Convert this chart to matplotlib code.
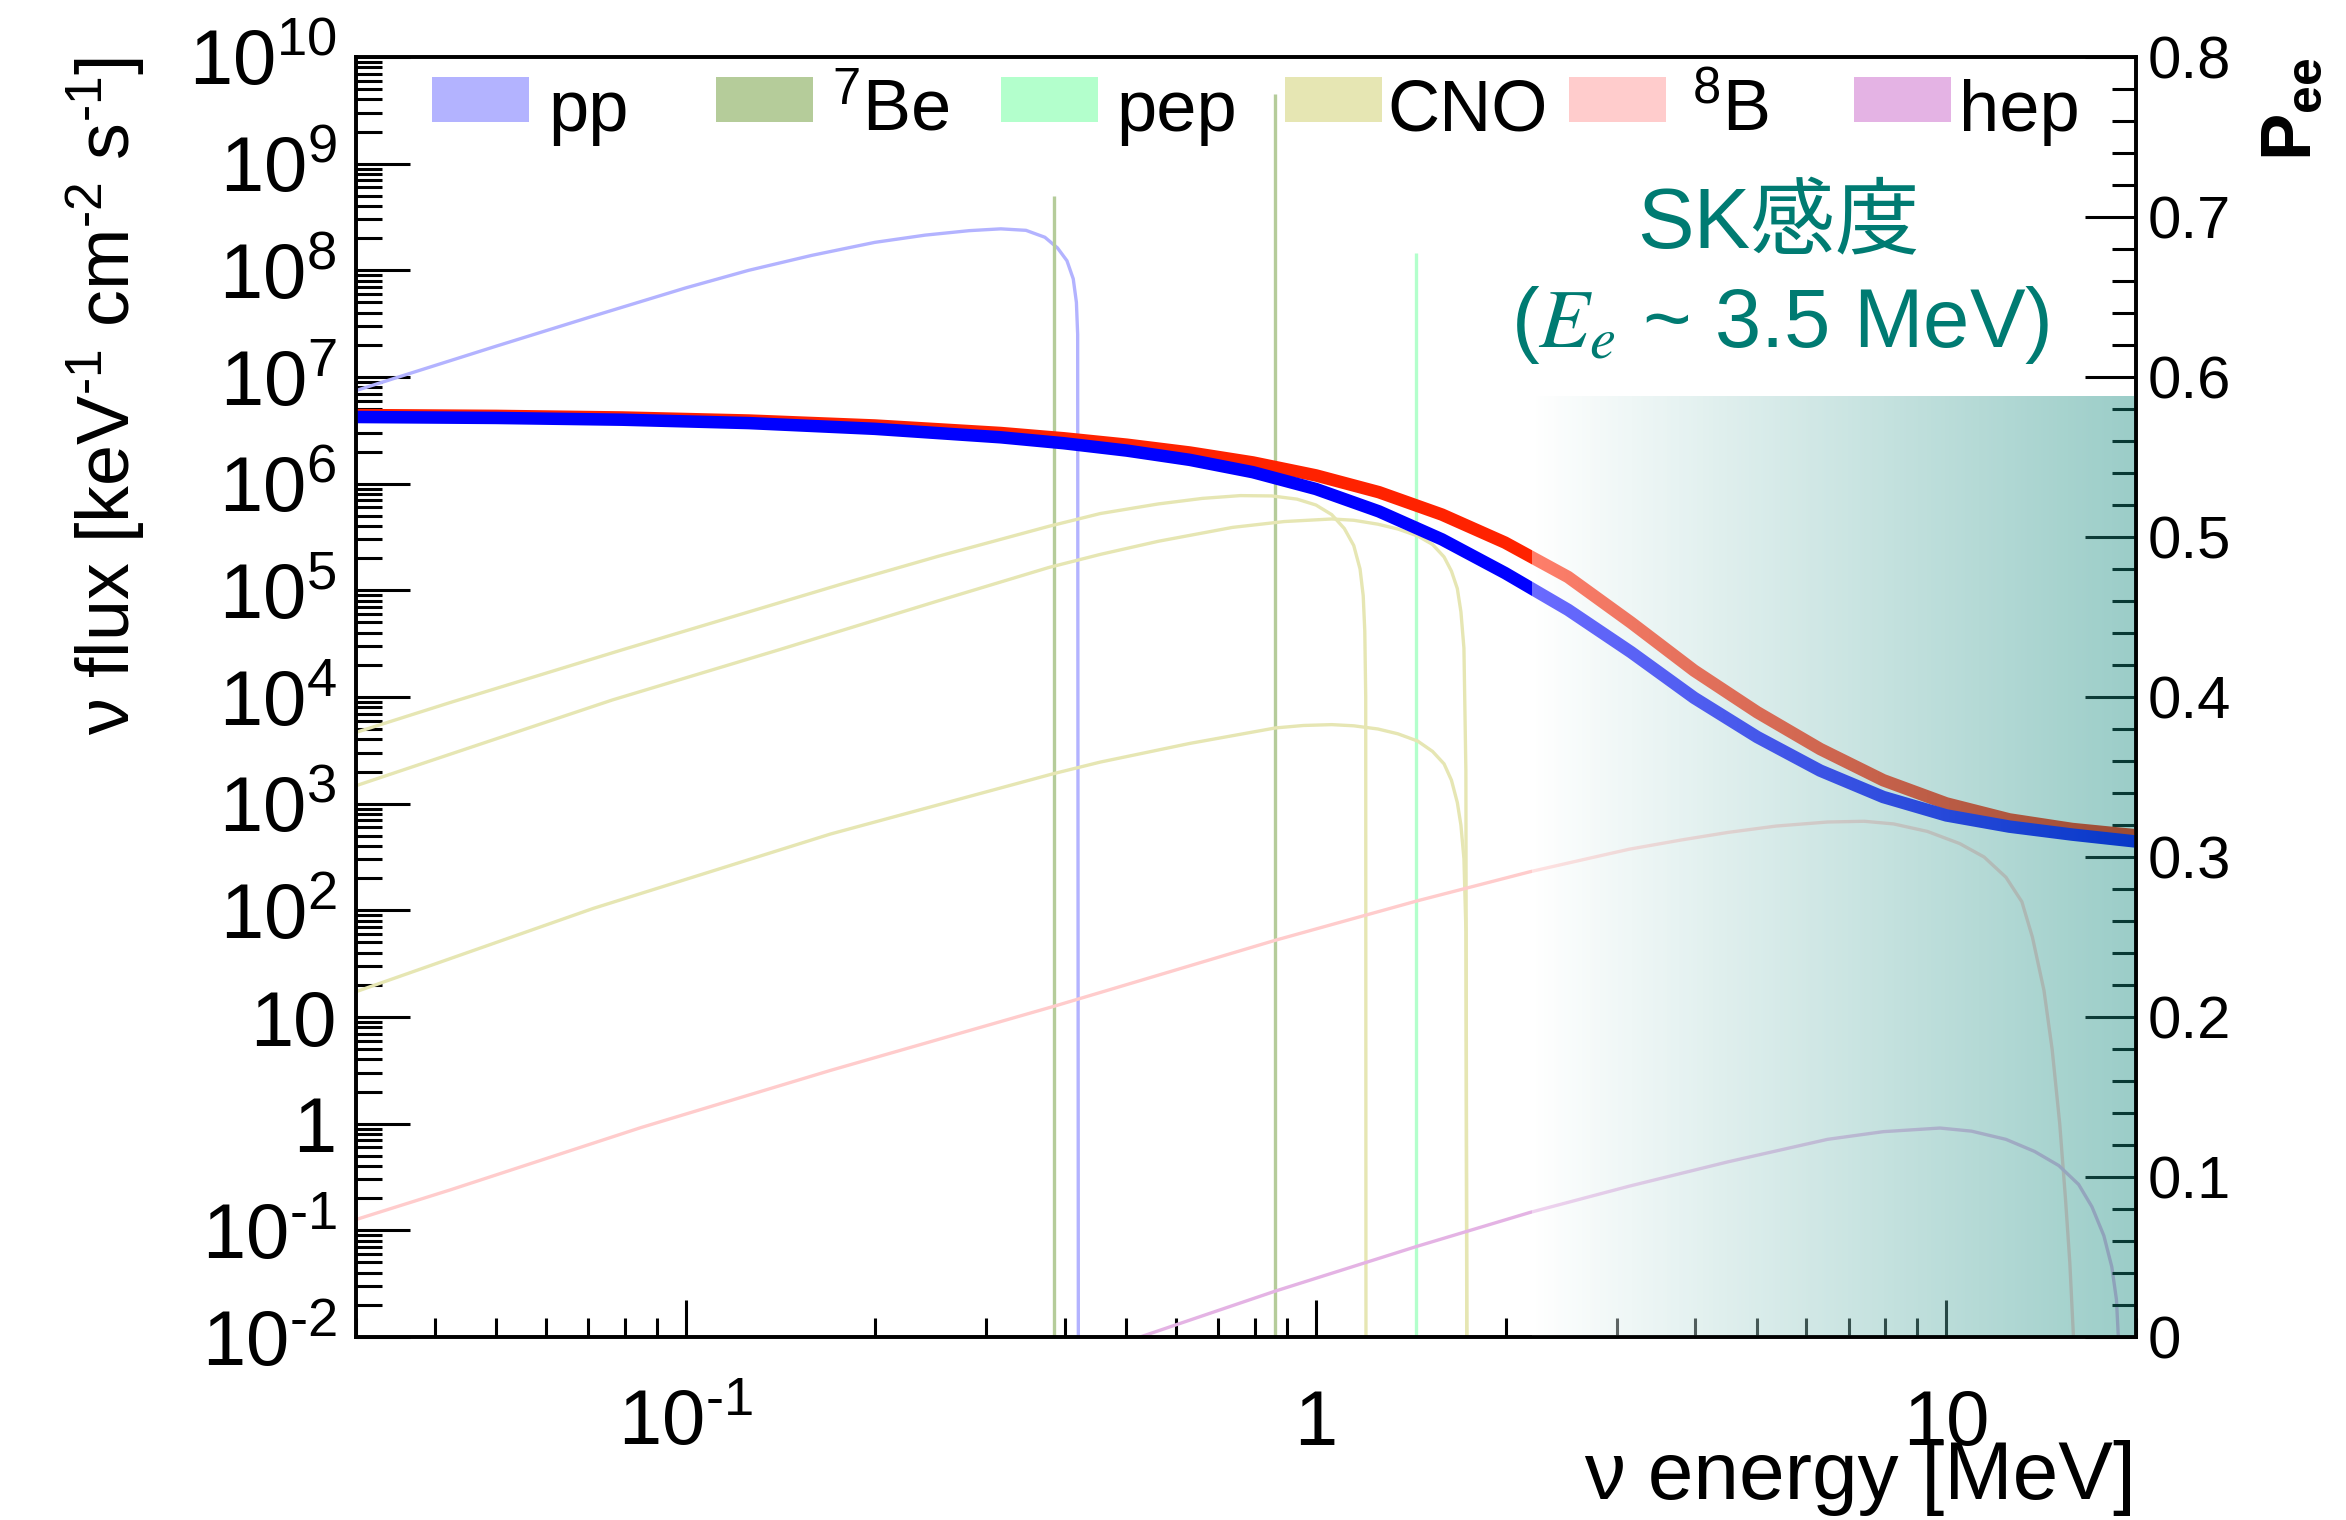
import numpy as np
import matplotlib
matplotlib.use("Agg")
import matplotlib.pyplot as plt
from matplotlib.patches import Rectangle
from matplotlib.colors import LinearSegmentedColormap
from matplotlib.ticker import LogLocator, NullFormatter, MultipleLocator

plt.rcParams['font.family'] = ['Liberation Sans', 'DejaVu Sans']
plt.rcParams['mathtext.fontset'] = 'custom'
plt.rcParams['mathtext.rm'] = 'Liberation Sans'
plt.rcParams['mathtext.it'] = 'Liberation Sans:italic'
plt.rcParams['mathtext.bf'] = 'Liberation Sans:bold'
plt.rcParams['mathtext.sf'] = 'Liberation Sans'

# ---------------- data: log10(E / MeV) and log10(flux / keV^-1 cm^-2 s^-1) ----------------
pp_logE = [-1.519, -1.45, -1.30, -1.15, -1.00, -0.90, -0.80, -0.70, -0.62, -0.55,
           -0.50, -0.46, -0.43, -0.41, -0.395, -0.385, -0.38, -0.378, -0.3767]
pp_logF = [6.88, 7.01, 7.29, 7.565, 7.835, 8.0, 8.14, 8.262, 8.33, 8.372,
           8.389, 8.375, 8.31, 8.21, 8.09, 7.92, 7.70, 7.40, -4]

be7_E = [0.384, 0.862]          # MeV (lines)
be7_flux = [5.0e8, 4.47e9]
pep_E = [1.442]
pep_flux = [1.44e8]

n13_logE = [-1.523, -1.3724, -1.1013, -0.75, -0.6, -0.4233, -0.342, -0.25, -0.18, -0.12,
            -0.07, -0.03, 0.0, 0.025, 0.045, 0.06, 0.07, 0.075, 0.0775, 0.079, 0.0795]
n13_logF = [3.668, 3.95, 4.441, 5.063, 5.318, 5.601, 5.72, 5.81, 5.862, 5.888,
            5.885, 5.855, 5.80, 5.71, 5.58, 5.42, 5.20, 4.95, 4.62, 4.0, -4]

o15_logE = [-1.523, -1.1163, -0.8527, -0.6, -0.4233, -0.342, -0.25, -0.1324, -0.05, 0.0251,
            0.06, 0.0984, 0.13, 0.1614, 0.185, 0.2033, 0.215, 0.2243, 0.23, 0.2348,
            0.2379, 0.24]
o15_logF = [3.168, 3.972, 4.441, 4.90, 5.215, 5.337, 5.46, 5.59, 5.645, 5.669,
            5.657, 5.62, 5.575, 5.51, 5.43, 5.313, 5.18, 5.017, 4.80, 4.459,
            3.307, -4]

f17_logE = [-1.523, -1.1465, -0.7698, -0.4159, -0.342, -0.2, -0.0641, -0.02, 0.0251, 0.06,
            0.0984, 0.13, 0.1614, 0.185, 0.2033, 0.215, 0.2243, 0.23, 0.2348, 0.238, 0.24]
f17_logF = [1.237, 2.018, 2.716, 3.282, 3.39, 3.565, 3.71, 3.733, 3.741, 3.73,
            3.70, 3.655, 3.587, 3.49, 3.373, 3.22, 3.011, 2.80, 2.485, 1.8, -4]

b8_logE = [-1.523, -1.3724, -1.071, -0.7698, -0.4159, -0.342, -0.0641, 0.1614, 0.3397, 0.42,
           0.497, 0.58, 0.6543, 0.73, 0.8116, 0.87, 0.9165, 0.97, 1.0213, 1.06,
           1.0947, 1.12, 1.1367, 1.155, 1.168, 1.18, 1.1892, 1.196, 1.2018, 1.21]
b8_logF = [-0.899, -0.619, -0.037, 0.50, 1.10, 1.23, 1.72, 2.09, 2.362, 2.47,
           2.573, 2.66, 2.731, 2.79, 2.828, 2.835, 2.81, 2.74, 2.626, 2.50,
           2.31, 2.08, 1.748, 1.25, 0.696, 0.0, -0.709, -1.3, -2.0, -4]

hep_logE = [-0.523, -0.279, -0.0641, 0.1614, 0.3397, 0.497, 0.6543, 0.8116, 0.90, 0.99,
            1.04, 1.0947, 1.14, 1.1786, 1.21, 1.2311, 1.25, 1.2626, 1.27, 1.273, 1.2735]
hep_logF = [-2.49, -2.0, -1.569, -1.148, -0.832, -0.586, -0.357, -0.147, -0.075, -0.041,
            -0.07, -0.147, -0.26, -0.393, -0.57, -0.779, -1.05, -1.341, -1.65, -2.0, -4]

# survival probability curves (right axis)
pee_logE = [-1.523, -1.3, -1.1, -0.9, -0.7, -0.5, -0.4, -0.3, -0.2, -0.1,
            0.0, 0.1, 0.2, 0.3, 0.4, 0.5, 0.6, 0.7, 0.8, 0.9,
            1.0, 1.1, 1.2, 1.3025]
pee_red = [0.5762, 0.5757, 0.5747, 0.5728, 0.5697, 0.5650, 0.5617, 0.5577, 0.5528, 0.5466,
           0.5385, 0.5280, 0.5140, 0.4965, 0.4750, 0.4465, 0.4165, 0.3905, 0.3675, 0.3480,
           0.3335, 0.3235, 0.3175, 0.3135]
pee_blue = [0.5750, 0.5744, 0.5733, 0.5712, 0.5676, 0.5623, 0.5586, 0.5540, 0.5482, 0.5405,
            0.5300, 0.5160, 0.4985, 0.4775, 0.4545, 0.4280, 0.3995, 0.3750, 0.3540, 0.3375,
            0.3260, 0.3190, 0.3140, 0.3096]

# SK sensitive region
sk_E_range = (2.2, 20.0)
sk_pee_top = 0.588

legend_labels = ['pp', '$^{7}$Be', 'pep', 'CNO', '$^{8}$B', 'hep']
legend_colors = ['#b3b3ff', '#b5cc9a', '#b3ffcc', '#e6e6b3', '#ffcccc', '#e4b3e4']

x_ticks = [0.1, 1, 10]
x_ticklabels = [r'$10^{\text{-}1}$', '1', '10']
y_ticks = [10.0 ** k for k in range(-2, 11)]
y_ticklabels = [r'$10^{\text{-}2}$', r'$10^{\text{-}1}$', '1', '10'] + \
               ['$10^{%d}$' % k for k in range(2, 11)]
pee_ticks = [0, 0.1, 0.2, 0.3, 0.4, 0.5, 0.6, 0.7, 0.8]
pee_ticklabels = ['0', '0.1', '0.2', '0.3', '0.4', '0.5', '0.6', '0.7', '0.8']


def p10(v):
    return 10.0 ** np.asarray(v, dtype=float)


# ---------------- figure ----------------
fig = plt.figure(figsize=(23.46, 15.2), dpi=100)
ax = fig.add_axes([0.15175, 0.12039, 0.75874, 0.84211])
ax.set_xscale('log')
ax.set_yscale('log')

lw_s = 2.4
ax.plot(p10(pp_logE), p10(pp_logF), color=legend_colors[0], lw=lw_s)
ax.vlines(be7_E, 1e-4, be7_flux, color=legend_colors[1], lw=lw_s)
ax.vlines(pep_E, 1e-4, pep_flux, color=legend_colors[2], lw=lw_s)
for lE, lF in [(n13_logE, n13_logF), (o15_logE, o15_logF), (f17_logE, f17_logF)]:
    ax.plot(p10(lE), p10(lF), color=legend_colors[3], lw=lw_s)
ax.plot(p10(b8_logE), p10(b8_logF), color=legend_colors[4], lw=lw_s)
ax.plot(p10(hep_logE), p10(hep_logF), color=legend_colors[5], lw=lw_s)

ax2 = ax.twinx()
ax2.plot(p10(pee_logE), pee_red, color='#ff2200', lw=9, zorder=3,
         solid_joinstyle='round')
ax2.plot(p10(pee_logE), pee_blue, color='#0000ff', lw=9, zorder=4,
         solid_joinstyle='round')

# gradient overlay for the SK region
n = 300
xe = np.geomspace(sk_E_range[0], sk_E_range[1], n + 1)
ye = np.array([0.0, sk_pee_top])
cvals = np.linspace(0, 1, n)[None, :]
cmap = LinearSegmentedColormap.from_list(
    'sk', [(1, 1, 1, 0.42), (17 / 255, 136 / 255, 124 / 255, 0.42)])
ax2.pcolormesh(xe, ye, cvals, cmap=cmap, vmin=0, vmax=1, shading='flat',
               zorder=5, antialiased=False, edgecolors='none')

# limits
ax.set_xlim(0.03, 20)
ax.set_ylim(1e-2, 1e10)
ax2.set_ylim(0, 0.8)

# ticks
ax.set_xticks(x_ticks, x_ticklabels)
ax.xaxis.set_minor_locator(LogLocator(base=10, subs=np.arange(2, 10), numticks=50))
ax.xaxis.set_minor_formatter(NullFormatter())
ax.set_yticks(y_ticks, y_ticklabels)
ax.yaxis.set_minor_locator(LogLocator(base=10, subs=np.arange(2, 10), numticks=100))
ax.yaxis.set_minor_formatter(NullFormatter())

ax.tick_params(axis='x', which='major', direction='in', length=26.6, width=2.2,
               pad=78, labelsize=56)
ax.tick_params(axis='x', which='minor', direction='in', length=13.5, width=2.2)
ax.tick_params(axis='y', which='major', direction='in', length=39, width=2.2,
               pad=14, labelsize=56)
ax.tick_params(axis='y', which='minor', direction='in', length=19, width=2.2)
for lbl in ax.get_xticklabels():
    lbl.set_verticalalignment('baseline')

ax2.set_yticks(pee_ticks, pee_ticklabels)
ax2.yaxis.set_minor_locator(MultipleLocator(0.02))
ax2.tick_params(axis='y', which='major', direction='in', length=37, width=2.2,
                pad=8.6, labelsize=43)
ax2.tick_params(axis='y', which='minor', direction='in', length=17, width=2.2)

for a in (ax, ax2):
    for sp in a.spines.values():
        sp.set_linewidth(2.6)
        sp.set_zorder(10)

# axis titles
ax.set_xlabel('ν energy [MeV]', fontsize=59, loc='right')
ax.xaxis.set_label_coords(1.0, -0.0805)
ax.set_ylabel(r'ν flux [keV$^{\text{-}1}$ cm$^{\text{-}2}$ s$^{\text{-}1}$]', fontsize=53, loc='top')
ax.yaxis.set_label_coords(-0.1174, 1.0)
ax2.set_ylabel(r'$\mathbf{P_{ee}}$', fontsize=51, loc='top')
ax2.yaxis.set_label_coords(1.0697, 1.0)

# legend (ROOT-like fixed grid)
x0, step, pw = 0.0427, 0.15972, 0.05449
y0, ph = 0.94922, 0.03516
text_shift = [0.0, 0.0, 0.0, -0.0075, 0.004, -0.006]
for i, (lab, col) in enumerate(zip(legend_labels, legend_colors)):
    ax2.add_patch(Rectangle((x0 + i * step, y0), pw, ph, transform=ax2.transAxes,
                            facecolor=col, edgecolor='none', zorder=20, clip_on=False))
    ax2.text(x0 + i * step + 0.0652 + text_shift[i], 0.9425, lab, transform=ax2.transAxes,
             fontsize=52, ha='left', va='baseline', zorder=20)

teal = '#007b72'
ax2.text(0.799, 0.8508, 'SK感度', transform=ax2.transAxes, ha='center', va='baseline',
         fontsize=61, color=teal, family=['Liberation Sans', 'Noto Sans CJK JP'], zorder=20)
ax2.text(0.8, 0.7737, '($E_e$ ~ 3.5 MeV)', transform=ax2.transAxes, ha='center',
         va='baseline', fontsize=60, color=teal, math_fontfamily='stix', zorder=20)

fig.savefig('out.png', dpi=100)
